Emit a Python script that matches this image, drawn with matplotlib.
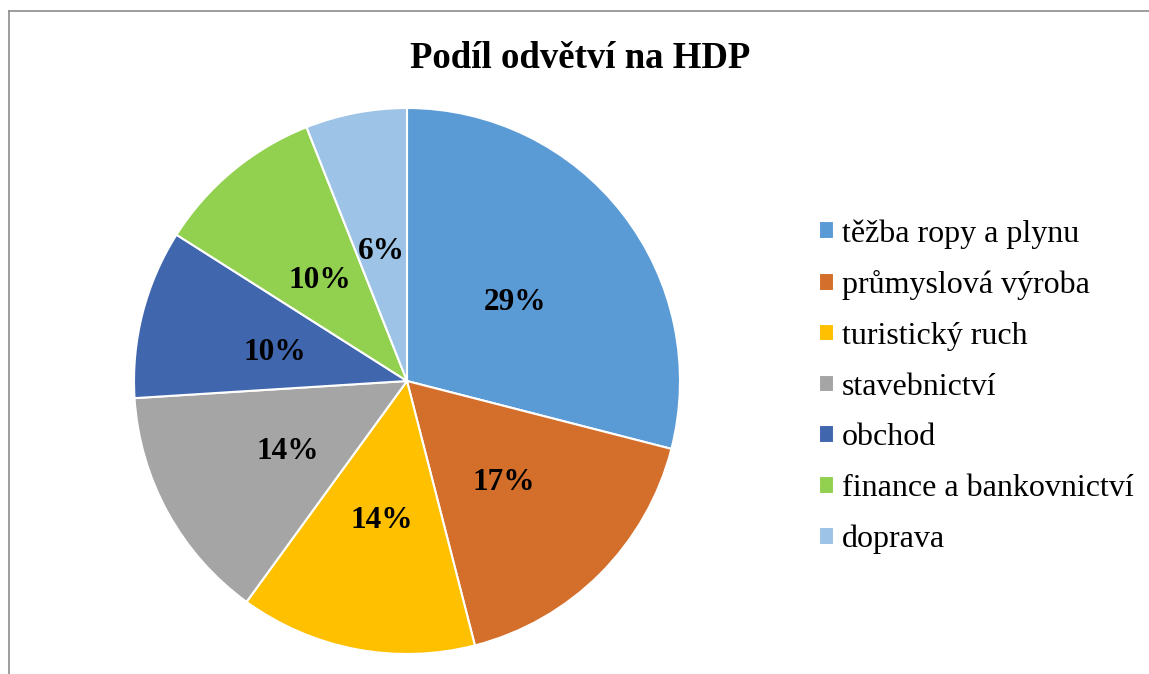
import matplotlib
matplotlib.use("Agg")
import matplotlib.pyplot as plt
import matplotlib.transforms as mtransforms
from matplotlib.lines import Line2D

categories = ["těžba ropy a plynu", "průmyslová výroba", "turistický ruch",
              "stavebnictví", "obchod", "finance a bankovnictví", "doprava"]
values = [29, 17, 14, 14, 10, 10, 6]
colors = ["#5B9BD5", "#D36F2B", "#FFC000", "#A5A5A5", "#4066AE", "#92D050", "#9DC3E6"]
title = "Podíl odvětví na HDP"

plt.rcParams['font.family'] = ['Liberation Serif', 'DejaVu Serif']

W, H = 1149, 674
fig = plt.figure(figsize=(W / 100, H / 100), dpi=100)

cx, cy, r = 407, 381, 273
ax = fig.add_axes([(cx - r) / W, (H - cy - r) / H, 2 * r / W, 2 * r / H])
wedges, texts, autotexts = ax.pie(
    values, colors=colors, startangle=90, counterclock=False,
    autopct=lambda p: f"{p:.0f}%", pctdistance=0.5,
    wedgeprops=dict(edgecolor="white", linewidth=1.5),
    textprops=dict(fontsize=22.5, fontweight="bold", color="black"))
for t in autotexts:
    t.set_transform(mtransforms.offset_copy(ax.transData, fig=fig, x=0, y=-5, units="dots"))
ax.set_xlim(-1, 1)
ax.set_ylim(-1, 1)
ax.set_aspect("equal")
ax.axis("off")

fig.text(580 / W, 1 - 59 / H, title, ha="center", va="center",
         fontsize=26.5, fontweight="bold")

fig.legend(wedges, categories, loc="upper left",
           bbox_to_anchor=(819 / W, 1 - 219 / H), frameon=False,
           fontsize=23, handlelength=0.47, handleheight=0.47,
           handletextpad=0.25, labelspacing=0.68, borderpad=0, borderaxespad=0)

fig.add_artist(Line2D([8.5 / W, 1], [1 - 11 / H, 1 - 11 / H], transform=fig.transFigure,
                      color="#8C8C8C", linewidth=1.2))
fig.add_artist(Line2D([8.5 / W, 8.5 / W], [0, 1 - 11 / H], transform=fig.transFigure,
                      color="#8C8C8C", linewidth=1.2))

fig.savefig("out.png", dpi=100)
